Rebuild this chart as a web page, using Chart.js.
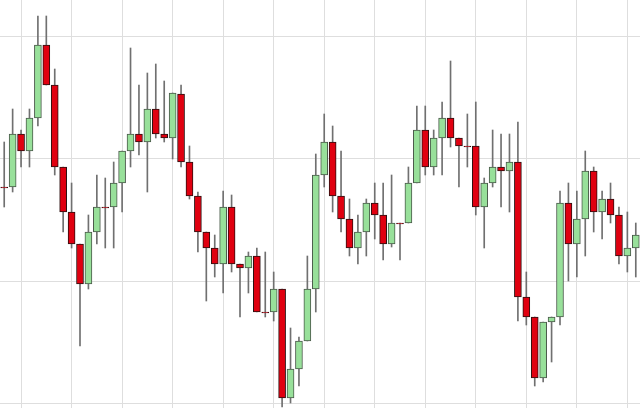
<!DOCTYPE html>
<html>
<head>
<meta charset="utf-8">
<script src="https://cdn.jsdelivr.net/npm/chart.js@4.4.1/dist/chart.umd.min.js"></script>
<style>
  html, body { margin: 0; padding: 0; background: #ffffff; }
  #wrap { width: 640px; height: 408px; }
</style>
</head>
<body>
<div id="wrap"><canvas id="c" width="640" height="408"></canvas></div>
<script>
// Session labels (one per candle)
const sessions = Array.from({length: 76}, (_, i) => 'D' + (i + 1));

// OHLC series (price units)
const opens  = [1216,1216,1269,1252,1285,1358,1318,1236,1191,1159,1119,1171,1196,1196,1220,1252,1269,1261,1294,1269,
                1265,1309,1241,1207,1171,1155,1139,1196,1139,1135,1147,1091,1091,1114,1005,1034,1062,1114,1228,1261,
                1207,1184,1155,1171,1200,1188,1159,1180,1180,1220,1273,1236,1265,1285,1265,1257,1257,1196,1220,1236,
                1232,1241,1106,1086,1025,1081,1086,1200,1159,1184,1232,1191,1204,1188,1147,1155];
const highs  = [1261,1294,1273,1294,1387,1387,1334,1236,1220,1159,1188,1228,1225,1241,1252,1355,1318,1330,1339,1322,
                1310,1318,1257,1211,1171,1168,1212,1208,1139,1151,1155,1151,1131,1114,1075,1066,1147,1249,1289,1277,
                1252,1204,1188,1204,1220,1220,1228,1180,1236,1297,1297,1273,1301,1342,1265,1289,1301,1225,1273,1269,
                1269,1281,1131,1086,1081,1086,1212,1220,1212,1252,1236,1212,1220,1196,1191,1180];
const lows   = [1196,1211,1236,1236,1277,1318,1228,1171,1155,1057,1114,1159,1155,1155,1191,1236,1248,1211,1265,1261,
                1244,1236,1204,1151,1102,1126,1110,1131,1086,1110,1091,1086,1082,996,1000,1017,1062,1091,1216,1191,
                1171,1147,1139,1147,1164,1143,1156,1143,1180,1220,1228,1228,1228,1256,1216,1236,1188,1155,1216,1196,
                1191,1082,1078,1017,1021,1041,1078,1122,1126,1147,1171,1164,1180,1139,1131,1126];
const closes = [1215,1269,1252,1285,1358,1318,1236,1191,1159,1119,1171,1196,1195,1220,1252,1269,1261,1294,1269,1265,
                1310,1241,1207,1171,1155,1139,1196,1139,1135,1147,1091,1090,1114,1005,1034,1062,1114,1228,1261,1207,
                1184,1155,1171,1200,1188,1159,1180,1179,1220,1273,1236,1265,1285,1265,1257,1256,1196,1220,1236,1232,
                1241,1106,1086,1025,1081,1086,1200,1159,1184,1232,1191,1204,1188,1147,1155,1168];

// Horizontal grid levels
const gridLevels = [1000, 1122, 1244, 1367];

const upFill = '#98e09a', upLine = '#4a5a4a';
const downFill = '#e00010', downLine = '#2a1010';

const bodyFill = opens.map((o, i) => closes[i] > o ? upFill : downFill);
const bodyLine = opens.map((o, i) => closes[i] > o ? upLine : downLine);

new Chart(document.getElementById('c'), {
  type: 'bar',
  data: {
    labels: sessions,
    datasets: [
      {
        label: 'body',
        data: opens.map((o, i) => [o, closes[i]]),
        backgroundColor: bodyFill,
        borderColor: bodyLine,
        borderWidth: 1,
        borderSkipped: false,
        barThickness: 7,
        grouped: false,
        order: 0
      },
      {
        label: 'wick',
        data: lows.map((l, i) => [l, highs[i]]),
        backgroundColor: '#707070',
        borderWidth: 0,
        barThickness: 1,
        grouped: false,
        order: 1
      }
    ]
  },
  options: {
    responsive: false,
    animation: false,
    layout: { padding: 0 },
    plugins: { legend: { display: false }, tooltip: { enabled: false } },
    scales: {
      x: {
        type: 'category',
        offset: true,
        border: { display: false },
        ticks: { display: false, autoSkip: false },
        grid: {
          offset: false,
          drawTicks: false,
          lineWidth: 1,
          color: ctx => (ctx.index % 6 === 2 ? '#dedede' : 'rgba(0,0,0,0)')
        }
      },
      y: {
        type: 'linear',
        min: 995,
        max: 1403,
        border: { display: false },
        ticks: { display: false },
        grid: { drawTicks: false, color: '#dedede', lineWidth: 1 },
        afterBuildTicks: scale => { scale.ticks = gridLevels.map(v => ({ value: v })); }
      }
    }
  }
});
</script>
</body>
</html>
